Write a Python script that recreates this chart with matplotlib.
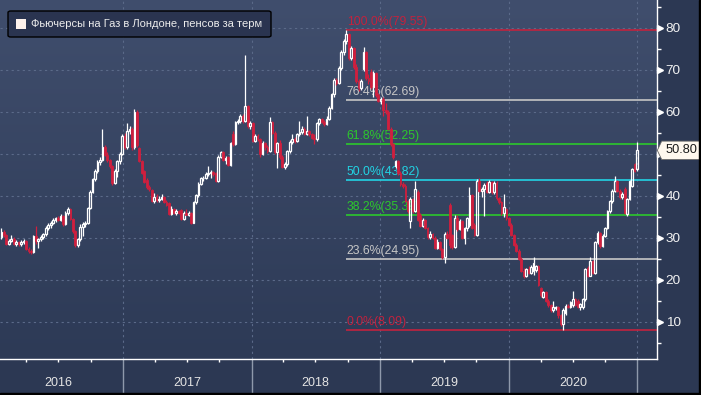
import numpy as np
import pandas as pd
import matplotlib
matplotlib.use('Agg')
import matplotlib.pyplot as plt
import matplotlib.dates as mdates
from matplotlib import transforms
from matplotlib.patches import Rectangle, FancyBboxPatch, Polygon

plt.rcParams['font.family'] = ['Liberation Sans', 'DejaVu Sans']

# weekly candles
first_week = '2016-01-21'
opens = [
    30.2, 31.3, 30.6, 28.6, 29.3, 29.8, 28.6, 28.9, 28.4, 29.0, 29.3, 27.3, 26.8,
    26.6, 30.3, 29.2, 29.7, 30.2, 30.8, 32.4, 33.0, 33.6, 34.3, 34.6, 34.3, 35.2,
    33.2, 35.8, 36.9, 34.5, 31.6, 28.2, 29.6, 32.6, 33.2, 33.6, 37.0, 41.0, 44.0,
    46.0, 48.0, 48.6, 51.6, 49.8, 48.4, 47.0, 43.0, 45.8, 48.2, 49.9, 54.2, 51.6,
    55.4, 56.0, 51.5, 60.0, 51.3, 48.3, 45.8, 43.8, 42.0, 41.4, 38.7, 39.8, 39.0,
    39.3, 39.7, 38.6, 38.3, 35.6, 36.8, 36.0, 36.3, 36.7, 34.4, 35.9, 35.5, 35.9,
    33.6, 38.5, 40.1, 42.9, 44.1, 44.3, 45.1, 45.4, 45.7, 45.4, 43.5, 49.3, 50.3,
    48.6, 49.2, 47.4, 54.6, 52.2, 57.6, 57.7, 59.0, 57.8, 61.3, 56.5, 57.2, 53.1,
    54.3, 53.5, 50.0, 52.5, 51.5, 50.6, 57.5, 55.0, 50.4, 52.5, 49.2, 46.9, 47.6,
    50.6, 52.8, 53.6, 53.0, 54.6, 55.2, 56.0, 54.8, 55.4, 54.6, 53.8, 53.4, 57.2,
    58.2, 57.6, 57.0, 58.3, 61.0, 64.1, 67.6, 66.8, 70.4, 74.3, 76.8, 78.4, 72.8,
    75.2, 70.6, 67.2, 65.6, 70.2, 74.2, 68.0, 69.5, 65.8, 69.2, 64.0, 62.6, 63.0,
    60.3, 60.0, 56.0, 52.2, 47.0, 48.2, 45.4, 42.7, 42.4, 38.7, 34.0, 39.2, 36.4,
    41.0, 35.5, 32.8, 34.3, 32.3, 30.1, 30.8, 30.0, 27.6, 29.0, 27.3, 25.4, 31.0,
    37.8, 30.6, 27.8, 34.8, 32.0, 34.0, 30.0, 32.2, 33.0, 40.2, 33.0, 30.6, 43.4,
    41.2, 41.7, 43.0, 41.0, 43.2, 40.8, 43.0, 39.4, 38.4, 35.8, 36.8, 34.6, 33.0,
    30.7, 28.3, 26.8, 25.0, 22.1, 20.8, 22.5, 21.7, 22.0, 22.2, 23.3, 18.0, 16.0,
    17.0, 15.0, 13.9, 12.7, 13.2, 13.4, 11.5, 9.4, 12.0, 13.8, 13.5, 14.0, 15.4,
    15.0, 13.5, 13.4, 15.4, 22.9, 21.0, 24.5, 21.6, 28.9, 31.2, 28.0, 30.5, 32.2,
    36.3, 38.7, 41.2, 43.5, 41.2, 39.6, 41.6, 35.6, 39.2, 42.3, 47.5, 46.3,
]
highs = [
    32.4, 31.8, 31.0, 29.8, 30.6, 30.1, 29.4, 29.2, 29.4, 29.8, 29.5, 27.9, 27.4,
    30.6, 32.8, 30.0, 30.6, 31.2, 32.8, 33.4, 34.0, 34.8, 35.0, 35.2, 35.6, 35.5,
    36.3, 37.3, 37.0, 34.8, 31.9, 30.0, 33.2, 33.8, 34.0, 37.4, 41.4, 44.3, 46.3,
    48.5, 49.3, 56.0, 52.0, 50.3, 48.8, 47.4, 46.3, 48.5, 50.3, 54.6, 55.0, 57.3,
    56.6, 56.3, 60.6, 60.4, 51.6, 48.6, 46.2, 44.1, 42.6, 41.7, 40.6, 40.3, 39.9,
    40.4, 40.0, 38.9, 38.5, 37.6, 37.0, 36.9, 36.7, 36.9, 36.3, 36.8, 36.4, 36.1,
    38.8, 40.4, 43.2, 44.5, 44.6, 45.6, 47.0, 46.2, 46.0, 45.7, 49.6, 50.6, 50.6,
    49.4, 49.5, 52.8, 55.3, 57.9, 58.2, 59.4, 59.5, 73.6, 61.6, 57.8, 57.5, 54.8,
    54.6, 53.8, 53.0, 52.8, 52.0, 58.8, 57.8, 55.3, 52.8, 53.2, 49.6, 48.0, 51.0,
    53.3, 54.6, 54.0, 55.0, 57.8, 56.5, 56.3, 59.0, 55.7, 54.9, 54.6, 57.6, 58.6,
    58.5, 58.0, 58.9, 61.3, 64.4, 68.0, 68.0, 70.8, 74.6, 77.2, 79.55, 78.8, 75.6,
    75.5, 71.4, 67.8, 67.8, 75.4, 74.5, 69.0, 70.2, 69.8, 69.5, 64.5, 63.6, 63.4,
    62.0, 60.3, 56.3, 52.5, 48.6, 48.5, 45.8, 43.3, 42.7, 39.0, 39.6, 39.5, 43.4,
    41.4, 35.8, 34.7, 34.5, 32.6, 31.6, 31.2, 30.3, 29.6, 29.2, 27.6, 31.3, 31.5,
    38.3, 30.8, 35.3, 35.4, 34.5, 34.3, 32.6, 35.0, 42.1, 40.5, 33.4, 43.9, 44.2,
    42.0, 43.0, 43.4, 43.8, 43.5, 43.6, 43.4, 39.8, 38.8, 40.4, 37.0, 34.9, 33.4,
    31.0, 28.7, 27.2, 25.3, 22.9, 22.9, 23.3, 23.4, 25.3, 23.6, 23.6, 18.3, 17.4,
    17.2, 15.3, 14.2, 15.0, 13.8, 13.8, 11.8, 13.3, 14.2, 14.2, 14.9, 17.4, 15.7,
    15.3, 14.5, 15.7, 22.9, 23.2, 25.3, 24.8, 29.2, 31.6, 31.4, 30.8, 32.6, 36.6,
    39.0, 41.5, 44.7, 43.8, 41.5, 40.8, 42.0, 39.5, 43.8, 46.6, 47.8, 52.8,
]
lows = [
    29.8, 30.2, 28.3, 28.2, 29.0, 28.2, 28.1, 28.0, 28.1, 28.6, 27.0, 26.4, 26.2,
    26.3, 28.6, 27.6, 29.2, 29.8, 30.5, 31.8, 32.4, 33.2, 33.8, 33.9, 34.0, 32.8,
    33.0, 35.4, 34.2, 31.2, 27.8, 27.9, 29.3, 30.5, 32.5, 33.2, 36.8, 40.6, 43.6,
    45.4, 47.4, 48.3, 49.4, 48.0, 46.6, 42.6, 42.7, 44.4, 47.6, 49.6, 51.2, 51.2,
    54.6, 51.0, 51.2, 51.5, 48.0, 45.2, 43.0, 41.6, 41.2, 38.4, 38.2, 38.6, 38.5,
    39.0, 38.2, 37.6, 35.3, 35.4, 35.6, 35.5, 35.7, 34.1, 34.2, 35.3, 35.2, 33.3,
    33.4, 38.0, 39.8, 42.6, 43.4, 43.9, 44.8, 44.2, 44.6, 43.2, 43.3, 48.9, 48.3,
    47.6, 47.0, 47.1, 51.9, 52.0, 57.0, 57.4, 57.4, 57.5, 56.2, 56.0, 52.8, 52.8,
    53.0, 49.2, 49.6, 51.0, 50.2, 50.3, 54.6, 50.0, 46.7, 48.8, 46.5, 46.4, 47.0,
    50.2, 52.4, 52.6, 52.8, 54.2, 54.8, 54.4, 54.5, 54.2, 53.4, 52.2, 53.1, 56.8,
    57.2, 56.6, 56.8, 58.0, 60.6, 63.4, 66.3, 66.5, 70.0, 73.6, 76.2, 72.4, 72.2,
    70.2, 66.8, 65.0, 65.2, 69.8, 67.6, 66.6, 65.5, 63.6, 63.5, 62.3, 61.8, 59.0,
    59.4, 55.6, 51.8, 48.8, 46.5, 45.0, 42.3, 41.8, 38.4, 36.0, 32.3, 36.0, 36.1,
    34.0, 32.5, 32.5, 32.0, 29.8, 29.7, 29.6, 27.3, 27.3, 27.0, 25.0, 23.9, 29.6,
    27.6, 27.3, 27.5, 31.6, 31.8, 29.6, 28.4, 31.6, 32.6, 32.0, 30.3, 30.4, 40.8,
    39.8, 35.2, 40.6, 40.6, 40.4, 40.3, 39.0, 38.0, 35.5, 35.0, 34.3, 32.8, 30.4,
    28.0, 26.5, 24.6, 21.8, 20.4, 20.6, 21.4, 21.3, 21.2, 21.8, 18.4, 16.0, 15.7,
    14.7, 13.6, 12.4, 12.4, 12.9, 11.0, 9.0, 8.09, 11.6, 13.2, 13.2, 13.6, 13.7,
    13.2, 12.8, 13.0, 15.0, 20.6, 20.8, 21.3, 21.3, 28.6, 27.6, 27.8, 30.2, 32.0,
    36.0, 38.2, 40.8, 40.9, 39.3, 39.3, 35.6, 35.2, 38.9, 42.0, 45.6, 46.0,
]
closes = [
    31.3, 30.6, 28.6, 29.3, 29.8, 28.6, 28.9, 28.4, 29.0, 29.3, 27.3, 26.8, 26.6,
    30.3, 29.2, 29.7, 30.2, 30.8, 32.4, 33.0, 33.6, 34.3, 34.6, 34.3, 35.2, 33.2,
    35.8, 36.9, 34.5, 31.6, 28.2, 29.6, 32.6, 33.2, 33.6, 37.0, 41.0, 44.0, 46.0,
    48.0, 48.6, 51.6, 49.8, 48.4, 47.0, 43.0, 45.8, 48.2, 49.9, 54.2, 51.6, 55.4,
    56.0, 51.5, 60.0, 52.0, 48.3, 45.5, 43.3, 42.0, 41.5, 38.7, 39.8, 39.0, 39.3,
    39.7, 38.6, 37.9, 35.6, 36.8, 36.0, 36.3, 36.0, 34.4, 35.9, 35.5, 35.9, 33.6,
    38.5, 40.1, 42.9, 44.1, 44.3, 45.1, 45.4, 45.7, 45.1, 43.5, 49.3, 50.3, 48.6,
    48.9, 47.4, 52.5, 52.2, 57.6, 57.7, 59.0, 57.8, 61.3, 56.5, 57.2, 53.1, 54.3,
    53.5, 50.0, 52.5, 51.5, 50.6, 57.5, 55.0, 50.4, 52.5, 49.2, 46.9, 47.6, 50.6,
    52.8, 53.6, 53.0, 54.6, 55.2, 56.0, 54.8, 55.4, 54.6, 53.8, 53.4, 57.2, 58.2,
    57.6, 57.0, 58.3, 61.0, 64.1, 67.6, 66.8, 70.4, 74.3, 76.8, 78.4, 72.8, 75.2,
    70.6, 67.2, 65.6, 67.4, 74.2, 68.0, 67.3, 65.8, 69.2, 64.0, 62.6, 63.0, 60.3,
    60.0, 56.0, 52.2, 49.1, 48.2, 45.4, 42.7, 42.4, 38.7, 36.3, 39.2, 36.4, 41.6,
    34.3, 32.8, 34.3, 32.3, 30.1, 30.8, 30.0, 27.6, 29.0, 27.3, 25.4, 31.0, 30.0,
    28.2, 27.8, 34.8, 32.0, 34.0, 30.0, 32.2, 34.6, 40.2, 32.3, 30.6, 43.4, 41.2,
    41.7, 42.6, 41.0, 43.2, 40.8, 43.0, 39.4, 38.4, 35.8, 37.2, 34.6, 33.0, 30.7,
    28.3, 26.8, 25.0, 22.1, 20.8, 22.5, 21.7, 23.0, 24.0, 23.3, 18.8, 16.3, 17.0,
    15.0, 13.9, 12.7, 13.6, 13.4, 11.5, 9.4, 12.9, 13.8, 13.5, 14.6, 15.4, 14.0,
    13.5, 14.2, 15.4, 22.5, 21.0, 24.5, 21.6, 28.9, 31.2, 28.0, 30.5, 32.2, 36.3,
    38.7, 41.2, 43.5, 41.2, 39.6, 40.3, 36.0, 39.2, 43.5, 46.3, 45.9, 50.8,
]

fib_pcts = [0.0, 23.6, 38.2, 50.0, 61.8, 76.4, 100.0]
fib_values = [8.09, 24.95, 35.39, 43.82, 52.25, 62.69, 79.55]
fib_colors = ['#c2223e', '#c6c6c6', '#2cc82c', '#22d4e4', '#2cc82c', '#c6c6c6', '#c2223e']
years = [2016, 2017, 2018, 2019, 2020]
y_ticks = [10, 20, 30, 40, 50, 60, 70, 80]
legend_label = 'Фьючерсы на Газ в Лондоне, пенсов за терм'
last_price = 50.80

W, H = 701, 395
fig = plt.figure(figsize=(W / 100, H / 100), dpi=100, facecolor='#2c3853')
ax = fig.add_axes([0, 35.7 / H, 656.7 / W, 359.3 / H])
ax.set_facecolor('none')

dates = pd.date_range(first_week, periods=len(closes), freq='7D')
x = mdates.date2num(dates)
x_left = mdates.date2num(pd.Timestamp('2016-01-17'))
x_right = mdates.date2num(pd.Timestamp('2021-02-25'))
y_lo, y_hi = 1.05, 86.6

# background gradient
top = np.array([0x40, 0x4e, 0x6d]) / 255
bot = np.array([0x2d, 0x3a, 0x56]) / 255
t = np.linspace(0, 1, 256)[:, None]
grad = (top * (1 - t) + bot * t)[:, None, :]
ax.imshow(grad, extent=[x_left, x_right, y_lo, y_hi], aspect='auto', origin='upper', zorder=0)
ax.set_xlim(x_left, x_right)
ax.set_ylim(y_lo, y_hi)

# ticks / grid; the 50 label sits under the last-price tag
ax.set_yticks(y_ticks)
ax.set_yticklabels(['' if v == 50 else str(v) for v in y_ticks])
ax.set_yticks(np.arange(5, 86, 10), minor=True)
ax.yaxis.tick_right()
year_starts = [mdates.date2num(pd.Timestamp(f'{y}-01-01')) for y in range(2017, 2022)]
ax.set_xticks(year_starts)
quarters = [mdates.date2num(pd.Timestamp(f'{y}-{m:02d}-01')) for y in range(2016, 2021) for m in (4, 7, 10)]
ax.set_xticks(quarters, minor=True)
ax.tick_params(axis='x', which='major', length=24.5, width=1, color='#8f99ab', labelbottom=False)
ax.tick_params(axis='x', which='minor', length=2.5, width=1, color='white')
ax.tick_params(axis='y', which='major', length=0, pad=6.5, labelsize=9.7, labelcolor='#f2f2f2')
ax.tick_params(axis='y', which='minor', length=3, width=1, color='white')
ax.set_axisbelow(True)
ax.grid(True, which='major', color='#5b6a89', lw=0.8, ls=(0, (2, 3)))
for s in ('left', 'top'):
    ax.spines[s].set_visible(False)
for s in ('bottom', 'right'):
    ax.spines[s].set_color('white')
    ax.spines[s].set_linewidth(1)

tri_tr = transforms.offset_copy(transforms.blended_transform_factory(ax.transAxes, ax.transData),
                                fig=fig, x=3.0, y=0, units='dots')
ax.plot(np.ones(len(y_ticks)), y_ticks, ls='none', marker='>', ms=4.2, color='white',
        transform=tri_tr, clip_on=False, zorder=5)

for y in years:
    xm = mdates.date2num(pd.Timestamp(f'{y}-07-02'))
    ax.text(xm, -0.065, str(y), transform=transforms.blended_transform_factory(ax.transData, ax.transAxes),
            ha='center', va='center', fontsize=9, color='#e4e4e4', clip_on=False)

# fibonacci levels from the high
peak = int(np.argmax(highs))
for p, v, col in zip(fib_pcts, fib_values, fib_colors):
    ax.hlines(v, x[peak], x_right, colors=col, lw=1.2, zorder=2)
    ax.text(x[peak] + 1, v + 0.5, f'{p:.1f}%({v:.2f})', color=col, fontsize=8.8,
            ha='left', va='bottom', zorder=2)

# candles
body_w = 5.0
for i in range(len(closes)):
    o, h, l, c = opens[i], highs[i], lows[i], closes[i]
    lo_b, hi_b = min(o, c), max(o, c)
    if c >= o:
        ax.add_patch(Rectangle((x[i] - body_w / 2, lo_b), body_w, max(hi_b - lo_b, 0.2),
                               fill=False, edgecolor='white', lw=0.9, zorder=3))
        col = 'white'
    else:
        prev = closes[i - 1] if i > 0 else o
        col = '#d01f3e' if c < prev else '#8e2c50'
        ax.add_patch(Rectangle((x[i] - body_w / 2, lo_b), body_w, hi_b - lo_b,
                               facecolor=col, edgecolor=col, lw=0.6, zorder=3))
    ax.vlines(x[i], hi_b, h, colors=col, lw=0.9, zorder=3)
    ax.vlines(x[i], l, lo_b, colors=col, lw=0.9, zorder=3)

# last price tag
tag_tr = transforms.blended_transform_factory(fig.transFigure, ax.transData)
hh = 2.2
tag = Polygon([(657.3 / W, last_price), (661.7 / W, last_price + hh), (699.5 / W, last_price + hh),
               (699.5 / W, last_price - hh), (661.7 / W, last_price - hh)], closed=True,
              transform=tag_tr, facecolor='#fff8ee', edgecolor='#666666', lw=0.6, zorder=12)
fig.add_artist(tag)
fig.text(681 / W, last_price, f'{last_price:.2f}', transform=tag_tr, ha='center', va='center',
         fontsize=9.2, color='#1a1a1a', zorder=13)

# legend box
leg = FancyBboxPatch((8 / W, 1 - 37 / H), 263 / W, 26 / H, boxstyle='round,pad=0,rounding_size=0.004',
                     transform=fig.transFigure, facecolor='#2a3450', edgecolor='black', lw=1, zorder=10)
fig.add_artist(leg)
fig.add_artist(Rectangle((16 / W, 1 - 29 / H), 10 / W, 10 / H, transform=fig.transFigure,
                         facecolor='#fdf2ec', edgecolor='none', zorder=11))
fig.text(31 / W, 1 - 24 / H, legend_label, color='#ececec', fontsize=8, ha='left', va='center', zorder=11)

# dark frame at right and bottom
fig.add_artist(Rectangle((699 / W, 0), 2 / W, 1, transform=fig.transFigure, color='black', zorder=20))
fig.add_artist(Rectangle((0, 0), 1, 2 / H, transform=fig.transFigure, color='black', zorder=20))

fig.savefig('out.png', dpi=100, facecolor=fig.get_facecolor())
